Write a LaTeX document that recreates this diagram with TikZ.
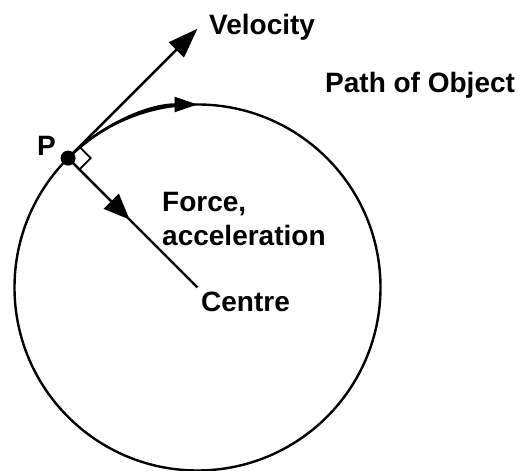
\documentclass[tikz,border=0pt]{standalone}
\usepackage{fontspec}
\setmainfont{Liberation Sans}
\usetikzlibrary{arrows.meta}

\begin{document}
\begin{tikzpicture}[
  x=1pt, y=1pt,
  lbl/.style={inner sep=0pt, anchor=base west, align=left, font=\fontsize{28}{34}\selectfont\bfseries},
  dot/.style={circle, fill, inner sep=0pt, minimum size=15pt},
  ln/.style={line width=2.4pt},
  fl/.style={-{Triangle[length=30pt, width=21pt]}, line width=2.4pt},
  pf/.style={-{Triangle[length=23pt, width=15pt]}, line width=2.4pt},
  mk/.style={line width=1.8pt},
]
\useasboundingbox (0,0) rectangle (528,471);
\coordinate (ctr) at (197.5,183.5);
\draw[ln] (ctr) circle[radius=183];
\node[dot] (p) at (68.1,312.9) {};
\coordinate (vtip) at (197.5,442.3);
\coordinate (fhead) at (129.6,251.4);
% velocity and force
\draw[fl] (p.center) -- (vtip);
\draw[ln] (p.center) -- (ctr);
\draw[-{Triangle[length=26pt, width=21pt]}, line width=2.4pt] (p.center) -- (fhead);
% direction of travel
\draw[pf] (p.center) arc[start angle=135, end angle=90, radius=183];
% right angle
\draw[mk] ([shift={(45:16pt)}]p.center) -- ++(-45:16pt) -- ++(-135:16pt);
\node[lbl] (vel) at (209,436) {Velocity};
\node[lbl] (path) at (325,378) {Path of Object};
\node[lbl] (plbl) at (37,315) {P};
\node[lbl] (force) at (162,225) {Force,\\acceleration};
\node[lbl] (centre) at (201,159) {Centre};
\end{tikzpicture}
\end{document}
